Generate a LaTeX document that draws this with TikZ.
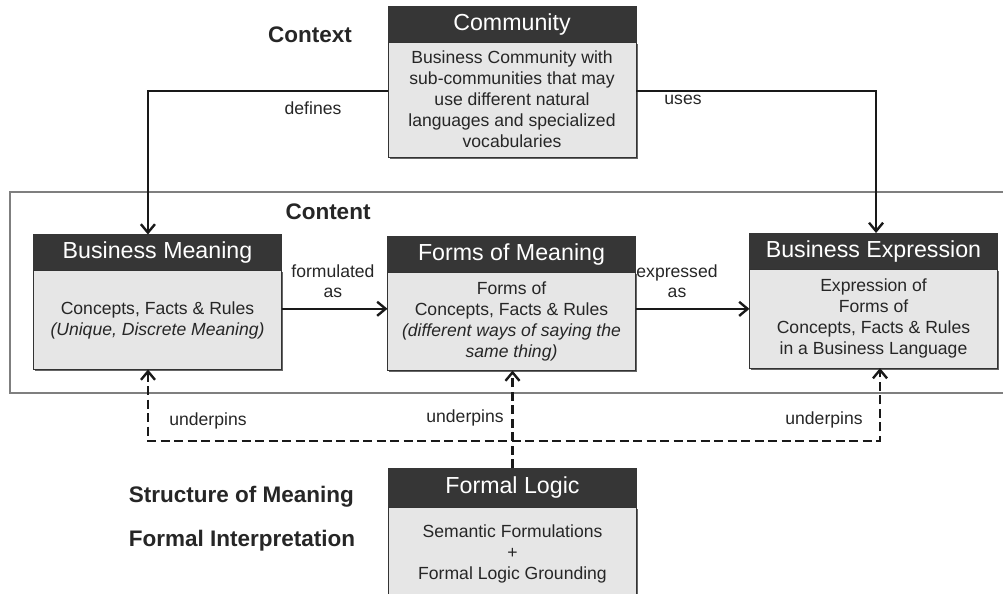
\documentclass[tikz,border=0pt]{standalone}
\usepackage{fontspec}
\setmainfont{Liberation Sans}
\usetikzlibrary{positioning,arrows.meta,shadows}

\definecolor{headgray}{HTML}{363636}
\definecolor{bodygray}{HTML}{E6E6E6}
\definecolor{framegray}{HTML}{7F7F7F}

\tikzset{
  head/.style={draw=headgray, fill=headgray, text=white, font=\fontsize{16.5}{19}\selectfont,
    inner sep=0pt, outer sep=0pt, minimum width=6.2cm, minimum height=0.9cm},
  body/.style={draw=black!80, fill=bodygray, text=black!85, font=\fontsize{12.5}{15}\selectfont,
    align=center, inner sep=0pt, outer sep=0pt, minimum width=6.2cm,
    drop shadow={shadow xshift=1.2pt, shadow yshift=-1.2pt, fill=black!60, opacity=1}},
  tag/.style={font=\fontsize{12.5}{14.5}\selectfont, text=black!85, align=center},
  level/.style={font=\fontsize{16}{19}\bfseries\selectfont, text=black!85},
  arr/.style={->, line width=1.7pt, black!90},
  under/.style={arr, dash pattern=on 6.4pt off 3.2pt},
}

\begin{document}
\begin{tikzpicture}[x=0.025cm, y=-0.025cm, >={Straight Barb[length=6pt,width=10pt]}]
  \useasboundingbox (0,0) rectangle (1003,593);

  % content frame, open on the right
  \draw[framegray, line width=1.6pt] (1003,192) -- (10,192) -- (10,393) -- (1003,393);

  % boxes
  \node[head] (comm) at (512,24) {Community};
  \node[body, below=0pt of comm, minimum height=2.875cm] (commtxt)
    {Business Community with\\ sub-communities that may\\ use different natural\\
     languages and specialized\\ vocabularies};

  \node[head] (bm) at (157.5,252.5) {Business Meaning};
  \node[body, below=0pt of bm, minimum height=2.475cm] (bmtxt)
    {Concepts, Facts \& Rules\\ \textit{(Unique, Discrete Meaning)}};

  \node[head] (fm) at (511.5,254.5) {Forms of Meaning};
  \node[body, below=0pt of fm, minimum height=2.45cm] (fmtxt)
    {Forms of\\ Concepts, Facts \& Rules\\ \textit{(different ways of saying the}\\ \textit{same thing)}};

  \node[head] (be) at (873.5,251) {Business Expression};
  \node[body, below=0pt of be, minimum height=2.475cm] (betxt)
    {Expression of\\ Forms of\\ Concepts, Facts \& Rules\\ in a Business Language};

  \node[head, minimum height=0.975cm] (fl) at (512.5,487.5) {Formal Logic};
  \node[body, below=0pt of fl, minimum height=2.35cm] (fltxt)
    {Semantic Formulations\\ +\\ Formal Logic Grounding};

  % side headings
  \node[level] (ctx) at (310,35) {Context};
  \node[level] (cnt) at (328,212) {Content};
  \node[level, anchor=west] (som) at (124,497) {Structure of Meaning};
  \node[level, anchor=west] (fint) at (124,541) {Formal Interpretation};

  % connector labels
  \node[tag] (defs) at (313,108) {defines};
  \node[tag] (uses) at (683,100) {uses};
  \node[tag] (form) at (333,281) {formulated\\ as};
  \node[tag] (expr) at (677,281) {expressed\\ as};
  \node[tag] (und1) at (208,421) {underpins};
  \node[tag] (und2) at (465,418) {underpins};
  \node[tag] (und3) at (824,420) {underpins};

  % arrows
  \draw[arr] ([yshift=6pt]commtxt.west) -| ([xshift=-6.8pt]bm.north);
  \draw[arr] ([yshift=6pt]commtxt.east) -| ([xshift=1.8pt]be.north);

  \coordinate (f1) at ([yshift=8pt]bmtxt.east);
  \draw[arr] (f1) -- (f1 -| fmtxt.west);
  \coordinate (e1) at ([yshift=9pt]fmtxt.east);
  \draw[arr] (e1) -- (e1 -| betxt.west);

  % underpins bus
  \coordinate (ul) at (148,441);
  \coordinate (ur) at (880,441);
  \draw[under, <->] (ul |- bmtxt.south) -- (ul) -- (ur) -- (ur |- betxt.south);
  \draw[under] (fl.north) -- (fl.north |- fmtxt.south);
\end{tikzpicture}
\end{document}
